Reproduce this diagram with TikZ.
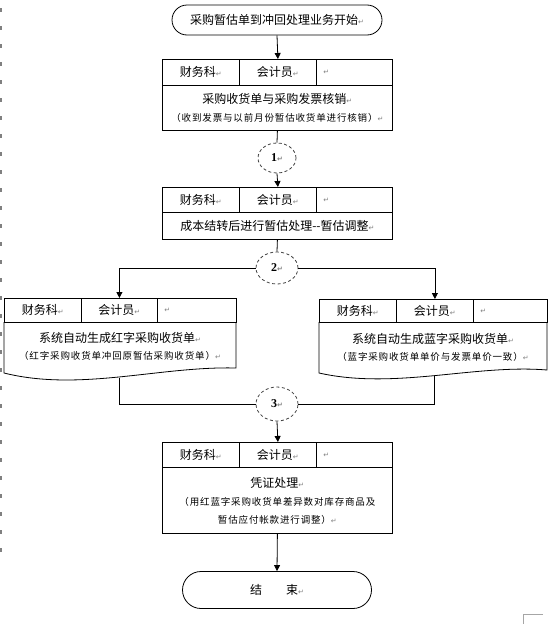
\documentclass[tikz,border=0pt]{standalone}
\usepackage{fontspec}
\setmainfont{Noto Sans CJK SC}
\newfontfamily\symfont{DejaVu Sans}
\newfontfamily\numfont{Liberation Serif}
\newfontfamily\smallcjk[LetterSpace=9]{Noto Sans CJK SC}
\usetikzlibrary{arrows.meta,shapes.geometric,shapes.misc}
\newcommand\pmk{{\symfont\fontsize{7}{7}\selectfont\textcolor{gray}{↵}}}
\newcommand\smallcn{\smallcjk\fontsize{9.5}{11}\selectfont}
\begin{document}
\begin{tikzpicture}[x=1pt,y=-1pt,
  ln/.style={line width=0.8pt},
  arr/.style={ln,-{Triangle[length=6pt,width=6pt]}},
  cell/.style={draw,line width=0.8pt,inner sep=0pt,anchor=north west,font=\fontsize{12}{14}\selectfont},
  lastcell/.style={cell,inner xsep=7pt,align=left},
  body/.style={draw,line width=0.8pt,inner sep=0pt,anchor=north west,align=center,font=\fontsize{12}{18}\selectfont},
  txt/.style={inner sep=0pt,align=center,font=\fontsize{12}{17}\selectfont},
  term/.style={draw,line width=0.8pt,rounded rectangle,inner sep=0pt,font=\fontsize{12}{14}\selectfont},
  circ/.style={draw,ellipse,dashed,dash pattern=on 3pt off 2.5pt,line width=0.8pt,black!75,text=black,inner sep=0pt,font=\numfont\bfseries\fontsize{12}{14}\selectfont}
]
\useasboundingbox (0,0) rectangle (554,624);
% page marks
\draw[gray,line width=1.2pt,dash pattern=on 4pt off 14pt] (1,8) -- (1,558);
\draw[gray!70,line width=0.8pt] (543,614) -- (523,614) -- (523,624);

% start
\node[term,minimum width=210pt,minimum height=30pt] (start) at (277,20) {采购暂估单到冲回处理业务开始\pmk};

% box 1
\node[cell,minimum width=77pt,minimum height=26pt] (b1A) at (162,59) {财务科\pmk};
\node[cell,minimum width=77pt,minimum height=26pt] (b1B) at (239,59) {会计员\pmk};
\node[lastcell,text width=62pt,minimum height=26pt] (b1C) at (316,59) {\pmk};
\node[body,minimum width=230pt,minimum height=45pt] (b1body) at (162,85)
  {采购收货单与采购发票核销\pmk\\{\smallcn （收到发票与以前月份暂估收货单进行核销）}\pmk};

\node[circ,minimum width=38pt,minimum height=30pt] (c1) at (277,158) {1\pmk};

% box 2
\node[cell,minimum width=77pt,minimum height=25pt] (b2A) at (162,187) {财务科\pmk};
\node[cell,minimum width=77pt,minimum height=25pt] (b2B) at (239,187) {会计员\pmk};
\node[lastcell,text width=62pt,minimum height=25pt] (b2C) at (316,187) {\pmk};
\node[body,minimum width=230pt,minimum height=27pt] (b2body) at (162,212)
  {成本结转后进行暂估处理-{}-暂估调整\pmk};

\node[circ,minimum width=42pt,minimum height=32pt] (c2) at (277,268) {2\pmk};

% left document box
\node[cell,minimum width=77pt,minimum height=24pt] (lA) at (4,298) {财务科\pmk};
\node[cell,minimum width=76pt,minimum height=24pt] (lB) at (81,298) {会计员\pmk};
\node[lastcell,text width=65pt,minimum height=24pt] (lC) at (157,298) {\pmk};
\draw[ln] (4,322) -- (4,373) .. controls (80,392) and (160,366) .. (236,368) -- (236,322);
\node[txt] (ltxt) at (120,346) {系统自动生成红字采购收货单\pmk\\{\smallcn （红字采购收货单冲回原暂估采购收货单）}\pmk};
\coordinate (lbot) at (119,377.5);

% right document box
\node[cell,minimum width=77pt,minimum height=23pt] (rA) at (319,299) {财务科\pmk};
\node[cell,minimum width=77pt,minimum height=23pt] (rB) at (396,299) {会计员\pmk};
\node[lastcell,text width=60pt,minimum height=23pt] (rC) at (473,299) {\pmk};
\draw[ln] (319,322) -- (319,373) .. controls (395,390) and (475,364) .. (547,370) -- (547,322);
\node[txt] (rtxt) at (433,347) {系统自动生成蓝字采购收货单\pmk\\{\smallcn （蓝字采购收货单单价与发票单价一致）}\pmk};
\coordinate (rbot) at (434.5,375.5);

\node[circ,minimum width=42pt,minimum height=34pt] (c3) at (277,404) {3\pmk};

% box 3
\node[cell,minimum width=77pt,minimum height=25pt] (b3A) at (162,442) {财务科\pmk};
\node[cell,minimum width=77pt,minimum height=25pt] (b3B) at (239,442) {会计员\pmk};
\node[lastcell,text width=62pt,minimum height=25pt] (b3C) at (316,442) {\pmk};
\node[body,minimum width=230pt,minimum height=66pt] (b3body) at (162,467)
  {凭证处理\pmk\\{\smallcn （用红蓝字采购收货单差异数对库存商品及}\\{\smallcn 暂估应付帐款进行调整）}\pmk};

% end
\node[term,minimum width=189pt,minimum height=37pt] (end) at (277,590) {结\hspace{24pt}束\pmk};

% connectors
\draw[arr] (start.south) -- (b1B.north);
\draw[ln] (b1body.south) -- (c1.north);
\draw[arr] (c1.south) -- (b2B.north);
\draw[ln] (b2body.south) -- (c2.north);
\draw[arr] (c2.west) -| (lB.north);
\draw[arr] (c2.east) -| (rB.north);
\draw[ln] (lbot) |- (c3.west);
\draw[ln] (rbot) |- (c3.east);
\draw[arr] (c3.south) -- (b3B.north);
\draw[arr] (b3body.south) -- (end.north);
\end{tikzpicture}
\end{document}
